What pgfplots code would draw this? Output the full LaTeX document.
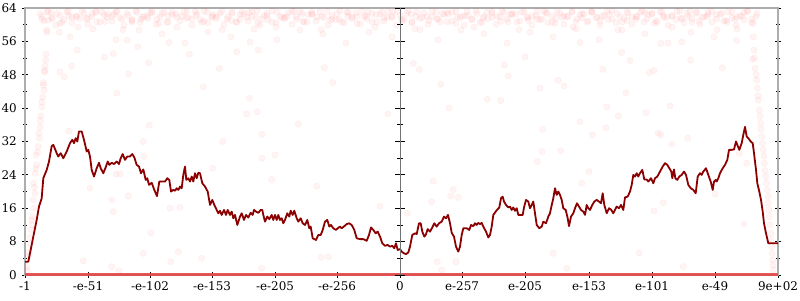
\documentclass[border=0pt]{standalone}
\usepackage{fontspec}
\setmainfont{DejaVu Serif}
\usepackage{pgfplots}
\pgfplotsset{compat=1.18}
\definecolor{linered}{HTML}{8B0000}
\definecolor{ptred}{HTML}{FF2020}
\definecolor{zerored}{HTML}{E44848}
\begin{document}
\fontsize{12}{14}\selectfont
\begin{tikzpicture}
\begin{axis}[
  scale only axis, width=753bp, height=267bp,
  xmin=25, xmax=778, ymin=0, ymax=64,
  axis line style={draw=black!32, line width=1.8bp},
  xtick={25,88,150,212,275,337,400,462,525,589,652,715,778},
  xticklabels={-1,-e-51,-e-102,-e-153,-e-205,-e-256,0,e-257,e-205,e-153,e-101,e-49,9e+02},
  ytick={0,8,16,24,32,40,48,56,64},
  minor y tick num=1,
  tick align=center, xtick pos=bottom, ytick pos=both,
  major tick length=6bp, minor tick length=4bp,
  every tick/.style={black, line width=0.8bp},
  /pgf/number format/assume math mode=true,
  ticklabel style={font=\fontsize{12}{14}\selectfont},
  y tick label style={xshift=-1bp},
  x tick label style={yshift=1bp},
]
\coordinate (bl) at (axis cs:0,-6.0);
\coordinate (tr) at (axis cs:800,65.92);
% faint scatter points
\addplot[only marks, mark=*, mark size=3.2bp,
  mark options={fill=ptred, draw=ptred, fill opacity=0.05, draw opacity=0.06, line width=0.4bp}]
coordinates {
(40,62.6)(44,60.9)(48,63.1)(52,61.7)(56,59.9)(60,62.2)(64,61.2)(68,63.3)(72,60.5)(76,62.0)(80,61.5)(84,62.8)(88,60.1)(92,61.9)(96,63.0)(100,60.7)(104,62.4)
(108,62.6)(112,60.9)(116,63.1)(120,61.7)(124,59.9)(128,62.2)(132,61.2)(136,63.3)(140,60.5)(144,62.0)(148,61.5)(152,62.8)(156,60.1)(160,61.9)(164,63.0)(168,60.7)(172,62.4)
(176,62.6)(180,60.9)(184,63.1)(188,61.7)(192,59.9)(196,62.2)(200,61.2)(204,63.3)(208,60.5)(212,62.0)(216,61.5)(220,62.8)(224,60.1)(228,61.9)(232,63.0)(236,60.7)(240,62.4)
(244,62.6)(248,60.9)(252,63.1)(256,61.7)(260,59.9)(264,62.2)(268,61.2)(272,63.3)(276,60.5)(280,62.0)(284,61.5)(288,62.8)(292,60.1)(296,61.9)(300,63.0)(304,60.7)(308,62.4)
(312,62.6)(316,60.9)(320,63.1)(324,61.7)(328,59.9)(332,62.2)(336,61.2)(340,63.3)(344,60.5)(348,62.0)(352,61.5)(356,62.8)(360,60.1)(364,61.9)(368,63.0)(372,60.7)(376,62.4)
(380,62.6)(384,60.9)(388,63.1)(392,61.7)(396,59.9)(400,62.2)(404,61.2)(408,63.3)(412,60.5)(416,62.0)(420,61.5)(424,62.8)(428,60.1)(432,61.9)(436,63.0)(440,60.7)(444,62.4)
(448,62.6)(452,60.9)(456,63.1)(460,61.7)(464,59.9)(468,62.2)(472,61.2)(476,63.3)(480,60.5)(484,62.0)(488,61.5)(492,62.8)(496,60.1)(500,61.9)(504,63.0)(508,60.7)(512,62.4)
(516,62.6)(520,60.9)(524,63.1)(528,61.7)(532,59.9)(536,62.2)(540,61.2)(544,63.3)(548,60.5)(552,62.0)(556,61.5)(560,62.8)(564,60.1)(568,61.9)(572,63.0)(576,60.7)(580,62.4)
(584,62.6)(588,60.9)(592,63.1)(596,61.7)(600,59.9)(604,62.2)(608,61.2)(612,63.3)(616,60.5)(620,62.0)(624,61.5)(628,62.8)(632,60.1)(636,61.9)(640,63.0)(644,60.7)(648,62.4)
(652,62.6)(656,60.9)(660,63.1)(664,61.7)(668,59.9)(672,62.2)(676,61.2)(680,63.3)(684,60.5)(688,62.0)(692,61.5)(696,62.8)(700,60.1)(704,61.9)(708,63.0)(712,60.7)(716,62.4)
(720,62.6)(724,60.9)(728,63.1)(732,61.7)(736,59.9)(740,62.2)(744,61.2)(748,63.3)(752,60.5)(756,62.0)
(42,62.0)(47,63.2)(52,61.4)(57,62.7)(62,60.6)(67,63.0)(72,61.8)(77,62.0)(82,63.2)(87,61.4)(92,62.7)(97,60.6)(102,63.0)(107,61.8)
(112,62.0)(117,63.2)(122,61.4)(127,62.7)(132,60.6)(137,63.0)(142,61.8)(147,62.0)(152,63.2)(157,61.4)(162,62.7)(167,60.6)(172,63.0)(177,61.8)
(182,62.0)(187,63.2)(192,61.4)(197,62.7)(202,60.6)(207,63.0)(212,61.8)(217,62.0)(222,63.2)(227,61.4)(232,62.7)(237,60.6)(242,63.0)(247,61.8)
(252,62.0)(257,63.2)(262,61.4)(267,62.7)(272,60.6)(277,63.0)(282,61.8)(287,62.0)(292,63.2)(297,61.4)(302,62.7)(307,60.6)(312,63.0)(317,61.8)
(322,62.0)(327,63.2)(332,61.4)(337,62.7)(342,60.6)(347,63.0)(352,61.8)(357,62.0)(362,63.2)(367,61.4)(372,62.7)(377,60.6)(382,63.0)(387,61.8)
(392,62.0)(397,63.2)(402,61.4)(407,62.7)(412,60.6)(417,63.0)(422,61.8)(427,62.0)(432,63.2)(437,61.4)(442,62.7)(447,60.6)(452,63.0)(457,61.8)
(462,62.0)(467,63.2)(472,61.4)(477,62.7)(482,60.6)(487,63.0)(492,61.8)(497,62.0)(502,63.2)(507,61.4)(512,62.7)(517,60.6)(522,63.0)(527,61.8)
(532,62.0)(537,63.2)(542,61.4)(547,62.7)(552,60.6)(557,63.0)(562,61.8)(567,62.0)(572,63.2)(577,61.4)(582,62.7)(587,60.6)(592,63.0)(597,61.8)
(602,62.0)(607,63.2)(612,61.4)(617,62.7)(622,60.6)(627,63.0)(632,61.8)(637,62.0)(642,63.2)(647,61.4)(652,62.7)(657,60.6)(662,63.0)(667,61.8)
(672,62.0)(677,63.2)(682,61.4)(687,62.7)(692,60.6)(697,63.0)(702,61.8)(707,62.0)(712,63.2)(717,61.4)(722,62.7)(727,60.6)(732,63.0)(737,61.8)
(742,62.0)(747,63.2)(752,61.4)(757,62.7)
(42,61.3)(51,62.9)(60,60.3)(69,62.1)(78,59.4)(87,61.6)(96,63.2)(105,60.8)(114,62.5)(123,58.8)(132,61.0)
(141,61.3)(150,62.9)(159,60.3)(168,62.1)(177,59.4)(186,61.6)(195,63.2)(204,60.8)(213,62.5)(222,58.8)(231,61.0)
(240,61.3)(249,62.9)(258,60.3)(267,62.1)(276,59.4)(285,61.6)(294,63.2)(303,60.8)(312,62.5)(321,58.8)(330,61.0)
(339,61.3)(348,62.9)(357,60.3)(366,62.1)(375,59.4)(384,61.6)(393,63.2)(402,60.8)(411,62.5)(420,58.8)(429,61.0)
(438,61.3)(447,62.9)(456,60.3)(465,62.1)(474,59.4)(483,61.6)(492,63.2)(501,60.8)(510,62.5)(519,58.8)(528,61.0)
(537,61.3)(546,62.9)(555,60.3)(564,62.1)(573,59.4)(582,61.6)(591,63.2)(600,60.8)(609,62.5)(618,58.8)(627,61.0)
(636,61.3)(645,62.9)(654,60.3)(663,62.1)(672,59.4)(681,61.6)(690,63.2)(699,60.8)(708,62.5)(717,58.8)(726,61.0)
(735,61.3)(744,62.9)(753,60.3)
(47,58.2)(70,57.1)(93,59.0)(116,56.4)(139,58.7)(162,57.8)(185,55.6)(208,58.2)(231,57.1)(254,59.0)(277,56.4)
(300,58.7)(323,57.8)(346,55.6)(369,58.2)(392,57.1)(415,59.0)(438,56.4)(461,58.7)(484,57.8)(507,55.6)(530,58.2)
(553,57.1)(576,59.0)(599,56.4)(622,58.7)(645,57.8)(668,55.6)(691,58.2)(714,57.1)(737,59.0)
(59.3,58.2)(77.3,53.9)(60,48.7)(64.3,47.5)(71.7,50.1)(104.3,52.2)(113.3,53.1)(116.7,43.6)(128.3,48.2)(127.3,56.3)
(137.7,54.7)(148.7,50.9)(149.3,35.9)(143.3,32)(169,55.7)(189.3,52.9)(69,34.5)
(203.3,45.1)(249.3,42.4)(246.7,38.6)(257.3,39.1)(261.7,33.7)(298.3,36.2)(275,28.8)(261.7,28)(222.7,32)(212.7,25.6)
(271.7,22.9)(324.3,49.7)(332.7,46.1)(387.7,38.6)(380,16.5)(316.7,21.3)(321,4.2)(328.3,4.4)(236.7,53.5)(250,55.8)
(258.3,53.9)(219.3,49.5)(201.7,4)(261.7,1.6)
(413.3,50.7)(419.3,49.3)(440.7,45.7)(449,40)(487.3,42.1)(500.7,41.8)(504.3,50.3)(508.3,47.7)(525,52.3)(540,44.8)
(542.7,34.9)(537.3,27.2)(542,29.6)(558.3,46.7)(564,45.3)(560.7,29.8)(433.3,22.5)(453.3,20.5)(450.7,18.9)(458.3,18.6)
(431.7,17.6)(407.3,14.8)(553.3,5.2)(437.3,3.2)(456,3.2)(441.7,1.2)(566.7,1.6)(580,55.7)(580,36.7)(581.7,22)(589,24.8)(592.3,33.6)
(618.3,38.1)(606.7,40.3)(606,35.3)(602.7,49.3)(621.7,53.3)(626,43.7)(630,51.4)(646,38.9)(649.3,48.5)(654,49)
(658.3,34)(660.7,33.6)(670,40.5)(671.7,31.4)(687.7,32.8)(690.7,51.5)(722.3,49.7)(681.7,55.9)(663.3,17.3)(654,15.4)
(639.3,5.3)(683.3,2)(744,12.2)(715,19.4)(739.3,29.2)(746.7,26.8)(661,55.5)(736.7,56.2)
(90,20.8)(111.7,18)(113.3,15.2)(128.3,18.9)(144,28.4)(150.7,10.1)(143.3,5.2)(83.3,3.4)(111.7,2)(119.3,1)
(170,16)(180,16.2)(178.3,5.6)(170.7,3.2)(116,24.2)(120,24.2)
(26.7,2)(28.3,4.4)(30,7.6)(31.7,10.8)(31.7,13.2)(32.7,14)(33.3,18)(35,19.6)(33.3,22)(35,24.4)(36.7,26.4)(36,28.8)
(38.3,30.8)(39.3,32.8)(40,35.5)(40.7,38.1)(41.7,40.3)(42.7,42.7)(44,44.3)(43.3,46.1)(44.3,48.7)(45,50.1)(45.7,51.5)
(46.7,58.7)(48.3,61.1)
(27.5,1)(29,5.5)(30.5,9)(32,12)(34,16)(34.5,21)(36,25.5)(37.5,29.5)(39,34)(40.5,37)(42,41.5)(43.5,45.5)(45,49)(46,53)
(753.3,57.1)(754,53.9)(752.7,51.7)(755,49.5)(756.7,46.7)(757.3,44.8)(758.3,41.9)(759.3,39.5)(760.7,36.4)(761.7,33.2)
(763.3,30)(764.3,26.8)(765.7,23.6)(767.3,20.4)(768.3,17.2)(769.3,14)(770.7,10)(771.7,6.8)(772.7,3.6)(773.3,1.2)
(754.5,52)(756,48)(758,43)(760,38)(761,35)(762.5,31.5)(764,28.5)(765,25)(766.5,22)(768,18.8)(769,15.6)(770,12)(771,8.5)(772,5.2)(773,2.4)
};
% dense points at zero
\addplot[zerored, line width=3.5bp, opacity=0.9] coordinates {(25,0) (778,0)};
% main line
\addplot[linered, line width=1.8bp, line join=round] coordinates {
(25,3.2)(28.3,3.2)(30,5.2)(33.3,9.2)(36.7,13.2)(39,16.4)(41.7,18.4)(43.3,23.2)(46.7,25.2)(49,27.2)(51.7,30.9)(53.3,31.2)
(56.7,29.2)(58.3,28.4)(60.7,29.2)(63.3,28)(66.7,29.6)(70,31.6)(72.3,32.4)(74,31.6)(75.7,32.8)(77.3,32)(79,34.4)(81.7,34.4)
(84,32.4)(86.7,29.6)(88.3,30)(90,28.4)(91.7,25.2)(94,23.6)(96.7,25.6)(99,26.9)(100.7,25.6)(103.3,24.4)(106,26)(107.7,27.2)
(109.3,26.4)(111.7,26.9)(114,26.6)(116.7,27.2)(119,26.6)(120.7,28)(122.7,29)(125,27.6)(127.3,28.4)(130,28.4)(132.3,29)
(134.3,28.2)(136.7,26.4)(139,26)(141,24.4)(143.3,25.3)(145.7,22.8)(147.3,23.2)(149,21.6)(151.7,22.1)(154.3,20.4)(157,18.9)
(159.3,22.4)(163.3,22.4)(165,22.4)(167.3,23.2)(169.3,22.8)(171,20)(173.3,20.4)(175,20.2)(176.7,20.8)(178.3,20.4)(180,21.2)
(181.7,20.8)(183.3,24)(185,26)(186.3,22.8)(188.3,23.2)(190,22.4)(191.7,23.6)(193.3,22.4)(195,24.4)(196.7,23.2)(198.3,24.5)
(200,24.4)(202.3,22)(205,21.2)(207.7,20)(210,16.8)(212.3,18)(214.3,16.8)(216.7,15.6)(218.3,14.8)(220,15.4)(221.7,14.4)
(224,15.6)(226,14.4)(227.7,15.6)(230,14.4)(231.7,15.2)(233.3,13.6)(235,14.4)(237.3,12)(240,14)(241.7,14.8)(244,13.2)
(246,14.4)(248.3,13.8)(250.7,14.9)(252.7,14.4)(254,15.6)(256,15.2)(258.3,14.9)(260.7,15.6)(262.3,15.6)(263.3,14.4)
(265,12.8)(267.3,14)(269.3,13.4)(271.7,14.4)(273.3,13.2)(275,14.4)(276.7,13.2)(278.3,14.4)(280,13.2)(281.7,13.6)
(283.3,12.4)(285,13.2)(287.3,14.8)(289.3,14)(290.7,15.4)(292.7,14.4)(294.3,15.4)(296.7,13.6)(298.3,12.8)(300.7,13.6)
(302.7,12.4)(305,12)(307.3,13.2)(309.3,11.2)(310.7,11.6)(312.7,8.8)(316,8.4)(318.3,9.6)(320.7,9.6)(322.7,10.8)(325,12.8)
(327.3,13.2)(329.3,11.6)(331,12)(333.3,11.2)(336,10.8)(337.7,11.2)(340,11.6)(341.7,11.2)(344.3,11.7)(346.7,12.2)(349,12.4)
(351.7,12)(354.3,10.8)(356.7,8.8)(360,8.6)(363.3,8.6)(366.7,8.2)(369,9.6)(371,11.4)(373.3,10.8)(375.7,10)(377.7,10.4)
(380,9.2)(382.3,7.6)(385,7)(387.7,7.2)(390,6.8)(392.3,7)(394.3,6.4)(396,7.6)(397.7,6)(400,6.2)(401.7,5.6)(404,5.2)(406,5)
(408.3,5.4)(410,6.8)(412.3,9.6)(415,10)(416.7,9.8)(419,12.4)(420.7,12.4)(422.3,10.4)(424.3,9.2)(425.7,9.6)(427.7,11)
(430,10.4)(432.3,11.4)(434.3,12.4)(436.7,11.6)(439,12.4)(441.7,12.8)(444,14)(446,13.6)(448,14.4)(450,12.4)(451.7,10.1)
(454,9.2)(456,6.8)(458.3,5.6)(460,6.8)(461.7,9.6)(463.3,11.2)(466.7,11.2)(469.3,10.8)(471,12)(473.3,11.7)(475,12.4)
(476.7,12)(478.3,12.5)(480,12.2)(481.7,12.5)(483.3,11.6)(486,10.4)(488.3,9)(490,9.6)(491.7,11.6)(493.3,14.4)(495.7,15.2)
(497.3,15.7)(499.3,16.2)(501,18.4)(502.7,18.8)(504,17.6)(506,16.8)(508.3,16.2)(510,16.4)(511.7,15.6)(513.3,16.2)(515,15.4)
(516.7,16)(518.3,14.4)(520.7,14.4)(522.7,14.4)(524,16.2)(526,18)(528.3,17.6)(530,16)(531.7,16.8)(533.3,17.6)(535,14.8)
(536.7,12)(539.3,11.2)(541.7,11.6)(543.3,12.8)(546,12.4)(548.3,14)(550,14.8)(551,16)(553.3,18.4)(555,20.8)(556.7,19.2)
(558.3,20)(560,19.2)(561.7,18)(563.3,16)(565.7,15.6)(567.7,13.6)(569,11.7)(571,14)(573.3,14.8)(575,16)(577,17.2)(579,16.4)
(581,15.6)(583.3,15.2)(585,14.4)(586.7,16.8)(588.3,16)(590,15.6)(592.3,16.8)(594.3,17.6)(596.7,18)(599,17.6)(601,17.2)
(602.7,19.6)(604.3,16.8)(606.7,14.8)(609,16)(611,15.7)(613.3,14.8)(615,15.6)(616.7,16.4)(619,16)(621,16.8)(623.3,15.6)
(625,18.6)(627.7,18.8)(630,20)(631.7,21.6)(633.3,24)(635,23.6)(636.7,24.4)(638.3,23.6)(640,24.4)(642.3,25.2)(644.3,22.9)
(646.7,22.9)(648.3,22.4)(651,23.2)(653.3,22)(655,23.2)(657.3,23.6)(660,24.8)(662.7,26)(665,26.8)(667.3,26.4)(669.3,25.6)
(671.3,24.8)(672.3,23.2)(674,25.3)(675.3,23.2)(677.3,22.8)(679.3,23.6)(681.7,24)(684,24.8)(686,24)(688.3,21.6)(690.7,20.8)
(693.3,20.4)(695.7,19.6)(697.7,23.6)(700,24.4)(701.7,24)(703.3,24.8)(706,25.6)(708.3,24)(710.7,22.4)(712.7,20.4)(714,22.4)
(715.7,22.8)(716.7,22.4)(718.3,23.2)(720,24.4)(722.7,25.6)(725,26.4)(727.3,27.6)(729,30)(731.7,30)(734,30.1)(736,32)
(737.3,31.2)(739.3,30)(741.7,31.6)(743.3,33.6)(745,35.5)(746.7,33.2)(748.3,32.8)(750.7,32)(752.7,31.6)(754,29.2)(756,25.2)
(757.3,22)(759.3,20)(761,18)(762.7,15.2)(764,12.4)(766,10)(768.3,7.6)(773.3,7.6)(778,7.6)
};
\end{axis}
% middle axis at the zero category
\begin{axis}[
  scale only axis, width=753bp, height=267bp,
  xmin=-375, xmax=378, ymin=0, ymax=64,
  axis x line=none, axis y line=middle,
  axis line style={draw=black!55, line width=0.8bp, -},
  ytick={0,8,16,24,32,40,48,56,64}, yticklabels={},
  minor y tick num=1, xtick=\empty,
  tick align=center,
  major tick length=10bp, minor tick length=6bp,
  every tick/.style={black, line width=0.8bp},
]
\addplot[draw=none] coordinates {(0,0)};
\end{axis}
\pgfresetboundingbox
\path[use as bounding box] (bl) rectangle (tr);
\end{tikzpicture}
\end{document}
